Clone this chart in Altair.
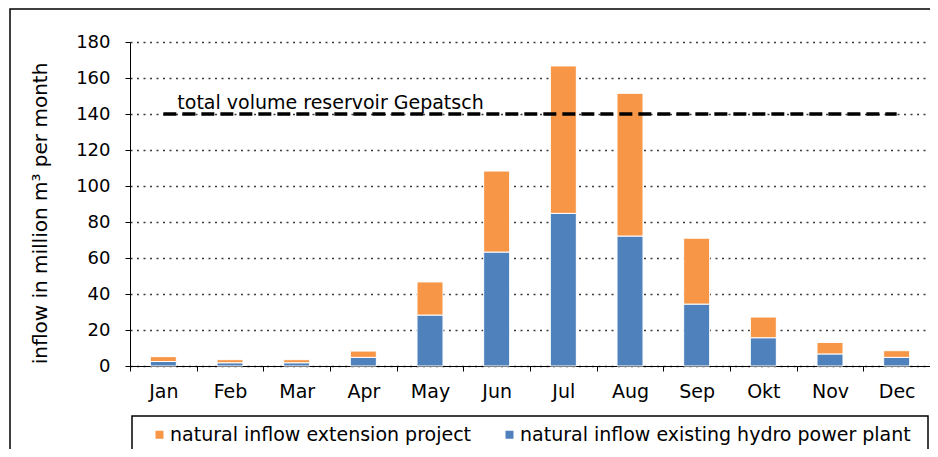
import altair as alt
import pandas as pd

months = ["Jan", "Feb", "Mar", "Apr", "May", "Jun", "Jul", "Aug", "Sep", "Okt", "Nov", "Dec"]
existing = [2.5, 1.8, 1.8, 4.8, 28.3, 63.3, 84.8, 72.2, 34.4, 15.7, 6.7, 4.8]
extension = [2.7, 1.7, 1.7, 3.5, 18.4, 45.0, 81.9, 79.3, 36.6, 11.5, 6.4, 3.7]
reservoir_volume = 140
reservoir_label = "total volume reservoir Gepatsch"
series_names = ["natural inflow extension project", "natural inflow existing hydro power plant"]
colors = ["#F79646", "#4F81BD"]
y_ticks = [0, 20, 40, 60, 80, 100, 120, 140, 160, 180]
y_title = "inflow in million m³ per month"

rows = []
for m, e, x in zip(months, existing, extension):
    rows.append({"month": m, "series": series_names[1], "value": e, "order": 0})
    rows.append({"month": m, "series": series_names[0], "value": x, "order": 1})
df = pd.DataFrame(rows)
df_line = pd.DataFrame({"month": months, "value": [reservoir_volume] * len(months)})
df_text = pd.DataFrame({"month": [months[0]], "value": [reservoir_volume], "label": [reservoir_label]})
df_one = pd.DataFrame({"k": [0]})

FONT = "DejaVu Sans"

x_enc = alt.X(
    "month:N",
    sort=months,
    scale=alt.Scale(domain=months, paddingInner=0, paddingOuter=0),
    axis=alt.Axis(
        title=None, tickBand="extent", labelAngle=0, labelFontSize=19,
        labelColor="black", labelPadding=11, tickSize=5, tickColor="black",
        domainColor="black", grid=False,
    ),
)

y_axis = alt.Axis(
    values=y_ticks, title=y_title, titleFontSize=20, titleFontWeight="normal",
    titleColor="black", titleX=-90, titleY=171, titleAngle=-90,
    titleBaseline="middle", titleAlign="center",
    labelFontSize=18, labelColor="black", labelPadding=15, tickSize=5,
    tickColor="black", domainColor="black", grid=True, gridColor="#3a3a3a",
    gridDash=[2, 4.5], gridWidth=1.5,
)
y_scale = alt.Scale(domain=[0, 180], nice=False)

bars = alt.Chart(df).mark_bar(size=26, stroke="white", strokeWidth=1).encode(
    x=x_enc,
    y=alt.Y("value:Q", stack="zero", scale=y_scale, axis=y_axis),
    color=alt.Color(
        "series:N",
        scale=alt.Scale(domain=series_names, range=colors),
        legend=alt.Legend(
            title=None, orient="none", legendX=20, legendY=383,
            direction="horizontal", symbolType="square", symbolSize=64,
            symbolStrokeWidth=0, labelFontSize=19, labelColor="black",
            labelOffset=1, columnPadding=28, labelLimit=600, padding=0,
        ),
    ),
    order=alt.Order("order:Q"),
)

line = alt.Chart(df_line).mark_line(color="black", strokeWidth=3.5, strokeDash=[13, 6]).encode(
    x=x_enc,
    y=alt.Y("value:Q", scale=y_scale, axis=y_axis),
)

text = alt.Chart(df_text).mark_text(
    align="left", baseline="alphabetic", dx=14, dy=-5, fontSize=19, color="black"
).encode(
    x=x_enc,
    y=alt.Y("value:Q", scale=y_scale, axis=y_axis),
    text="label:N",
)

frame = alt.Chart(df_one).mark_rect(filled=False, stroke="black", strokeWidth=1.5).encode(
    x=alt.value(-120), x2=alt.value(850), y=alt.value(-33), y2=alt.value(470)
)

legend_box = alt.Chart(df_one).mark_rect(filled=False, stroke="black", strokeWidth=1.5).encode(
    x=alt.value(2), x2=alt.value(798), y=alt.value(374), y2=alt.value(409)
)

chart = alt.layer(frame, legend_box, bars, line, text).properties(
    width=800,
    height=324,
    autosize=alt.AutoSizeParams(type="none"),
    padding={"left": 122, "top": 34, "right": 0, "bottom": 83},
).configure(font=FONT).configure_view(strokeWidth=0)

chart.save("out.html", embed_options={"renderer": "svg", "actions": False})
